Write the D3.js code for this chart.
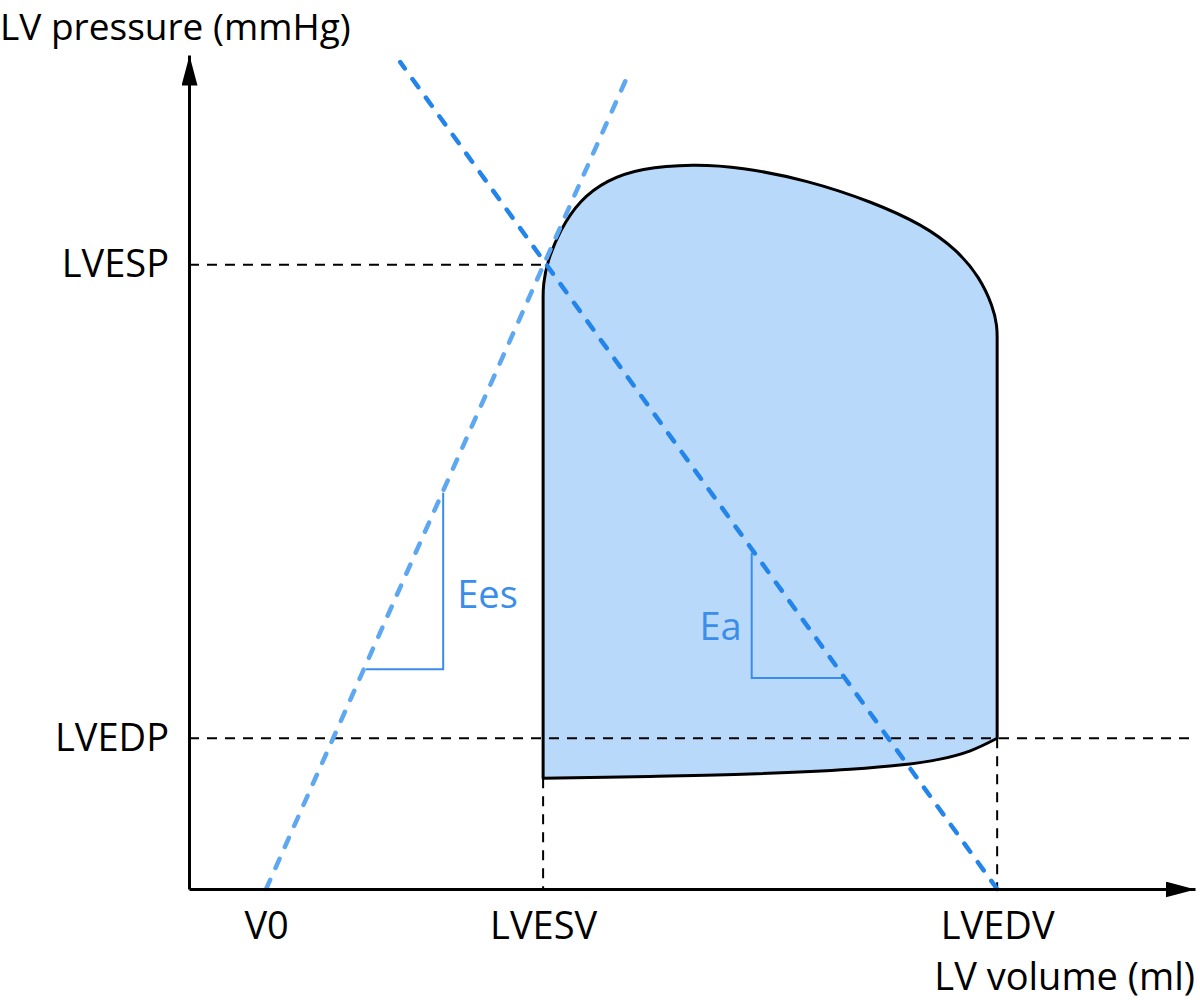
<!DOCTYPE html>
<html>
<head>
<meta charset="utf-8">
<script src="https://cdn.jsdelivr.net/npm/d3@7"></script>
<style>
  body { margin: 0; background: #fff; }
  svg { display: block; font-family: "Open Sans", sans-serif; }
</style>
</head>
<body>
<svg class="pvloop" width="1200" height="1005"></svg>
<script>
// schematic values (ml / mmHg)
var volumeTicks = ["V0", "LVESV", "LVEDV"];
var volumeTickValues = [11.5, 52.8, 120.5];
var pressureTicks = ["LVESP", "LVEDP"];
var pressureTickValues = [104.8, 25.3];

// filling limb: LVESV -> LVEDV
var fillVol = [52.8, 68.7, 83.6, 98.6, 106.0, 112.0, 116.5, 120.5];
var fillPres = [18.6, 18.9, 19.3, 20.1, 20.8, 21.8, 23.2, 25.3];

// ejection limb: top of isovolumic contraction -> end systole
var ejectVol = [120.5, 120.5, 119.9, 117.9, 114.5, 109.4, 102.0, 92.2, 82.2, 75.2, 67.3, 62.3, 58.3, 55.3, 53.4, 52.8, 52.8];
var ejectPres = [92.2, 94.5, 97.7, 102.7, 107.3, 111.5, 115.3, 119.0, 121.2, 121.7, 121.0, 119.0, 115.7, 110.6, 105.3, 101.4, 99.0];

// ESPVR (Ees) and arterial elastance (Ea) lines
var espvrVol = [11.5, 65.8];
var espvrPres = [0, 137.5];
var eaVol = [120.5, 31.5];
var eaPres = [0, 138.8];

// slope triangles [v1, v2] x [p1, p2]
var eesTriVol = [26.4, 37.9];
var eesTriPres = [36.9, 66.5];
var eaTriVol = [83.9, 97.4];
var eaTriPres = [35.4, 56.4];

var svg = d3.select(".pvloop");

var x = d3.scaleLinear().domain([0, 150]).range([189, 1195]);
var y = d3.scaleLinear().domain([0, 140]).range([889, 55]);

var pts = function (vs, ps) {
  return vs.map(function (v, i) { return [v, ps[i]]; });
};

var line = d3.line()
  .x(function (d) { return x(d[0]); })
  .y(function (d) { return y(d[1]); });

var smooth = d3.line()
  .x(function (d) { return x(d[0]); })
  .y(function (d) { return y(d[1]); })
  .curve(d3.curveCatmullRom.alpha(0.5));

var basis = d3.line()
  .x(function (d) { return x(d[0]); })
  .y(function (d) { return y(d[1]); })
  .curve(d3.curveBasis);

var defs = svg.append("defs");
defs.append("marker")
  .attr("id", "arrow")
  .attr("viewBox", "0 0 30 16")
  .attr("refX", 30)
  .attr("refY", 8)
  .attr("markerWidth", 30)
  .attr("markerHeight", 16)
  .attr("markerUnits", "userSpaceOnUse")
  .attr("orient", "auto")
  .append("path")
  .attr("d", "M0,0L30,8L0,16Z")
  .attr("fill", "#000");

// loop: filling curve, isovolumic contraction, ejection curve, close down ESV
var loopD = smooth(pts(fillVol, fillPres)) +
  basis(pts(ejectVol, ejectPres)).replace(/^M/, "L") + "Z";

svg.append("path")
  .attr("d", loopD)
  .attr("fill", "#b9d9fb")
  .attr("stroke", "#000")
  .attr("stroke-width", 3)
  .attr("stroke-linejoin", "round");

// dashed guides
var guides = [
  [[0, pressureTickValues[0]], [volumeTickValues[1], pressureTickValues[0]]],
  [[0, pressureTickValues[1]], [150, pressureTickValues[1]]],
  [[volumeTickValues[1], fillPres[0]], [volumeTickValues[1], 0]],
  [[volumeTickValues[2], pressureTickValues[1]], [volumeTickValues[2], 0]]
];
svg.selectAll(".guide")
  .data(guides)
  .enter()
  .append("path")
  .attr("class", "guide")
  .attr("d", line)
  .attr("fill", "none")
  .attr("stroke", "#000")
  .attr("stroke-width", 2)
  .attr("stroke-dasharray", "10,8");

// slope triangles
var tri = function (vs, ps, corner) {
  // corner = index into vs for vertical leg
  return [[vs[1 - corner], ps[0]], [vs[corner], ps[0]], [vs[corner], ps[1]]];
};
svg.append("path")
  .attr("d", line(tri(eesTriVol, eesTriPres, 1)))
  .attr("fill", "none")
  .attr("stroke", "#3b8cea")
  .attr("stroke-width", 2);
svg.append("path")
  .attr("d", line(tri(eaTriVol, eaTriPres, 0)))
  .attr("fill", "none")
  .attr("stroke", "#3b8cea")
  .attr("stroke-width", 2);

svg.append("text")
  .attr("x", x(eesTriVol[1]) + 14)
  .attr("y", y((eesTriPres[0] + eesTriPres[1]) / 2) + 27)
  .attr("fill", "#3a8ee9")
  .attr("font-size", 38)
  .text("Ees");
svg.append("text")
  .attr("x", x(eaTriVol[0]) - 10)
  .attr("y", y((eaTriPres[0] + eaTriPres[1]) / 2) + 24)
  .attr("text-anchor", "end")
  .attr("fill", "#3a8ee9")
  .attr("font-size", 38)
  .text("Ea");

// ESPVR and Ea dashed lines
svg.append("path")
  .attr("d", line(pts(espvrVol, espvrPres)))
  .attr("stroke", "#5ea7f1")
  .attr("stroke-width", 4.5)
  .attr("stroke-linecap", "round")
  .attr("stroke-dasharray", "10,13");
svg.append("path")
  .attr("d", line(pts(eaVol, eaPres)))
  .attr("stroke", "#2384ea")
  .attr("stroke-width", 4.5)
  .attr("stroke-linecap", "round")
  .attr("stroke-dasharray", "10,13");

// axes
var xAxis = svg.append("g")
  .attr("transform", "translate(0,889)")
  .call(d3.axisBottom(x)
    .tickValues(volumeTickValues)
    .tickFormat(function (d, i) { return volumeTicks[i]; })
    .tickSize(0)
    .tickPadding(23));

var yAxis = svg.append("g")
  .attr("transform", "translate(189,0)")
  .call(d3.axisLeft(y)
    .tickValues(pressureTickValues)
    .tickFormat(function (d, i) { return pressureTicks[i]; })
    .tickSize(0)
    .tickPadding(20));

svg.selectAll(".domain")
  .attr("stroke-width", 3)
  .attr("marker-end", "url(#arrow)");
svg.selectAll(".tick text")
  .attr("font-family", "Open Sans, sans-serif")
  .attr("font-size", 38)
  .attr("fill", "#000");

svg.append("text")
  .attr("x", 0)
  .attr("y", 40)
  .attr("font-size", 37)
  .text("LV pressure (mmHg)");
svg.append("text")
  .attr("x", 1195)
  .attr("y", 990)
  .attr("text-anchor", "end")
  .attr("font-size", 38)
  .text("LV volume (ml)");
</script>
</body>
</html>
